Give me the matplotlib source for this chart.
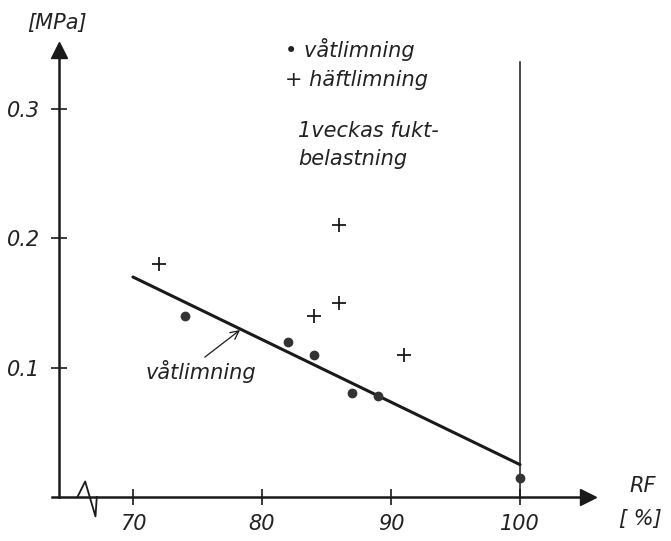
import matplotlib.pyplot as plt

# RF [%] and bond strength [MPa] after one week of moisture load
vat_rf = [74, 82, 84, 87, 89, 100]
vat_mpa = [0.14, 0.12, 0.11, 0.08, 0.078, 0.015]

haft_rf = [72, 84, 86, 86, 91]
haft_mpa = [0.18, 0.14, 0.15, 0.21, 0.11]

# fitted line for våtlimning
fit_rf = [70, 100]
fit_mpa = [0.17, 0.025]

x_ticks = [70, 80, 90, 100]
y_ticks = [0.1, 0.2, 0.3]
y_tick_labels = ['0.1', '0.2', '0.3']

hand = dict(family='DejaVu Sans', style='italic', weight='light', color='#222222')

fig = plt.figure(figsize=(6.71, 5.41), dpi=100)
ax = fig.add_axes([0, 0, 1, 1])
ax.set_xlim(59.7, 111.7)
ax.set_ylim(-0.034, 0.384)
ax.patch.set_alpha(0)

# axes drawn as arrows crossing at (64.3, 0)
x0 = 64.3
for s in ['top', 'right']:
    ax.spines[s].set_visible(False)
ax.spines['left'].set_position(('data', x0))
ax.spines['bottom'].set_position(('data', 0))
ax.spines['left'].set_bounds(0, 0.345)
ax.spines['bottom'].set_bounds(x0 - 0.6, 105.3)
for s in ['left', 'bottom']:
    ax.spines[s].set_linewidth(1.8)
    ax.spines[s].set_color('#1a1a1a')
ax.plot(x0, 0.345, marker='^', ms=11, color='#1a1a1a', clip_on=False)
ax.plot(105.3, 0, marker='>', ms=11, color='#1a1a1a', clip_on=False)

ax.set_xticks(x_ticks)
ax.set_xticklabels([str(t) for t in x_ticks], fontsize=15, **hand)
ax.set_yticks(y_ticks)
ax.set_yticklabels(y_tick_labels, fontsize=15, **hand)
ax.tick_params(direction='inout', length=12, width=1.2, color='#1a1a1a')
ax.tick_params(axis='x', pad=6)
ax.tick_params(axis='y', pad=8)

# axis break on the RF axis
ax.plot([65.9, 66.3, 67.0, 67.1], [0, 0.011, -0.014, 0],
        color='white', lw=4, solid_capstyle='butt')
ax.plot([65.7, 66.3, 67.1, 67.2], [0, 0.012, -0.015, 0],
        color='#1a1a1a', lw=1.3)

# 100 % RF limit
ax.plot([100, 100], [0, 0.336], color='#1a1a1a', lw=1.1)

ax.plot(fit_rf, fit_mpa, color='#1a1a1a', lw=2.2, solid_capstyle='round')
ax.plot(vat_rf, vat_mpa, 'o', ms=6, color='#333333')
ax.plot(haft_rf, haft_mpa, '+', ms=10, mew=1.3, color='#1a1a1a')

ax.annotate('våtlimning', xy=(78.3, 0.129), xytext=(71.0, 0.097),
            fontsize=15, ha='left', va='center', **hand,
            arrowprops=dict(arrowstyle='->', color='#1a1a1a', lw=0.9,
                            shrinkA=0, shrinkB=0,
                            relpos=(0.5, 1.0)))

ax.text(x0 - 0.2, 0.366, '[MPa]', fontsize=15, ha='center', va='center', **hand)
ax.text(109.5, 0.0085, 'RF', fontsize=15, ha='center', va='center', **hand)
ax.text(109.3, -0.017, '[ %]', fontsize=15, ha='center', va='center', **hand)

ax.text(81.8, 0.346, '• våtlimning', fontsize=15, ha='left', va='center', **hand)
ax.text(81.8, 0.322, '+ häftlimning', fontsize=15, ha='left', va='center', **hand)
ax.text(82.8, 0.283, '1veckas fukt-', fontsize=15, ha='left', va='center', **hand)
ax.text(82.8, 0.261, 'belastning', fontsize=15, ha='left', va='center', **hand)

fig.savefig('out.png', dpi=100)
